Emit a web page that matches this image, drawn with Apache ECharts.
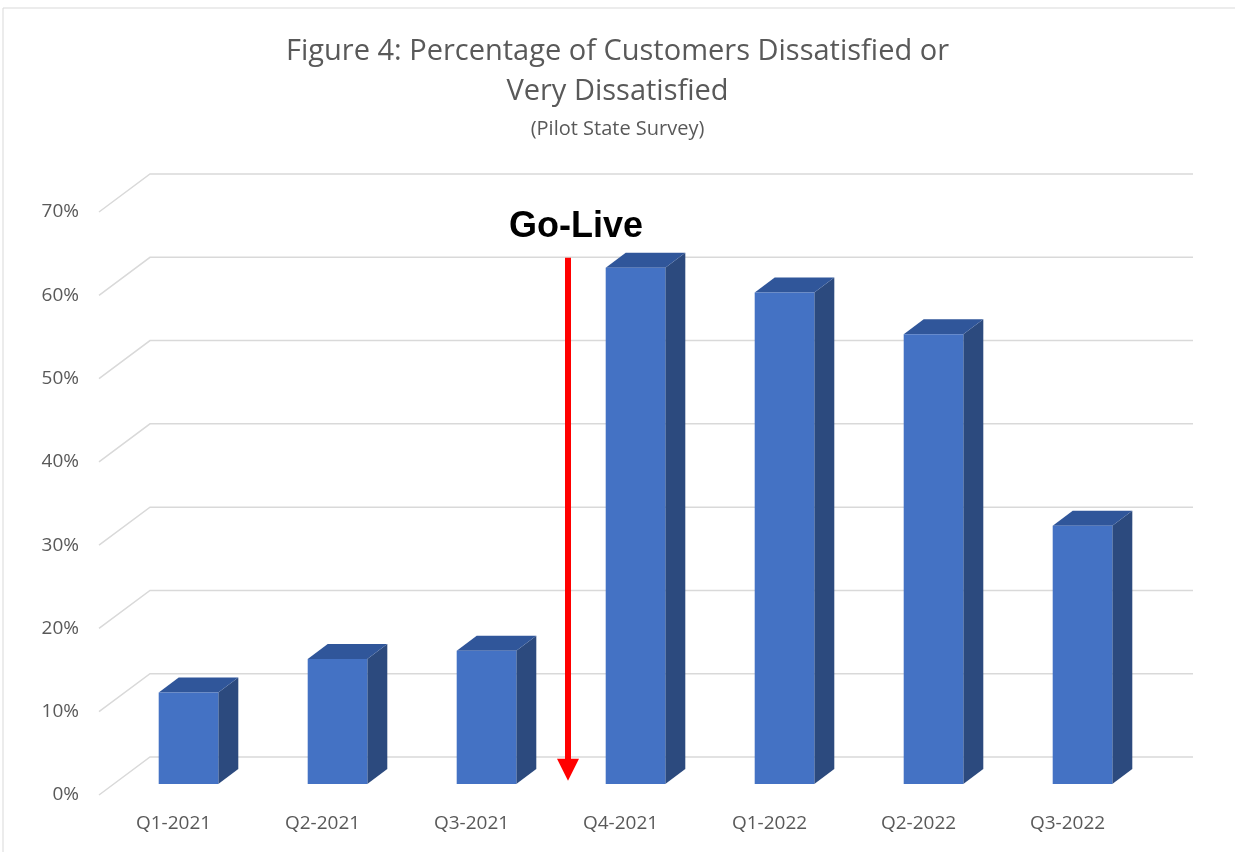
<!DOCTYPE html>
<html>
<head>
<meta charset="utf-8">
<title>Figure 4</title>
<script src="https://cdn.jsdelivr.net/npm/echarts@6/dist/echarts.min.js"></script>
<style>
  html, body { margin: 0; padding: 0; background: #fff; }
  #main { width: 1235px; height: 852px; }
</style>
</head>
<body>
<div id="main"></div>
<script>
// data
var quarters = ['Q1-2021', 'Q2-2021', 'Q3-2021', 'Q4-2021', 'Q1-2022', 'Q2-2022', 'Q3-2022'];
var dissatisfied = [0.11, 0.15, 0.16, 0.62, 0.59, 0.54, 0.31];
var ticks = [0, 0.1, 0.2, 0.3, 0.4, 0.5, 0.6, 0.7];
// go-live marker: after the 3rd quarter, arrow from/to value
var goLive = [2, 0.645, 0.017];

// 3d look
var wallDx = 51, wallDy = -38;    // depth of the floor / side wall
var barDx = 15, barDy = -11;      // where bar fronts sit
var sideDx = 20, sideDy = -15;    // bar depth

var myChart = echarts.init(document.getElementById('main'));

function gridItem(params, api) {
  var cs = params.coordSys;
  var y = api.coord([0, api.value(1)])[1];
  var x0 = cs.x, x1 = cs.x + cs.width;
  return {
    type: 'polyline',
    shape: { points: [[x0, y], [x0 + wallDx, y + wallDy], [x1 + wallDx, y + wallDy]] },
    style: { stroke: '#d9d9d9', lineWidth: 1.5, fill: null },
    silent: true
  };
}

function barItem(params, api) {
  var i = api.value(0), v = api.value(1);
  var top = api.coord([i, v]);
  var base = api.coord([i, 0]);
  var w = api.size([1, 0])[0] * 0.4;
  var xl = top[0] - w / 2 + barDx, xr = xl + w;
  var yt = top[1] + barDy, yb = base[1] + barDy;
  return {
    type: 'group',
    children: [
      {
        type: 'polygon',
        shape: { points: [[xr, yt], [xr + sideDx, yt + sideDy], [xr + sideDx, yb + sideDy], [xr, yb]] },
        style: { fill: '#2c4a7e' }
      },
      {
        type: 'polygon',
        shape: { points: [[xl, yt], [xl + sideDx, yt + sideDy], [xr + sideDx, yt + sideDy], [xr, yt]] },
        style: { fill: '#30569a' }
      },
      {
        type: 'rect',
        shape: { x: xl, y: yt, width: w, height: yb - yt },
        style: { fill: '#4472c4' }
      }
    ]
  };
}

function arrowItem(params, api) {
  var i = api.value(0);
  var a = api.coord([i, api.value(1)]);
  var b = api.coord([i + 1, api.value(2)]);
  var x = (a[0] + b[0]) / 2 + 22;
  var y0 = a[1], y1 = b[1];
  return {
    type: 'group',
    children: [
      {
        type: 'line',
        shape: { x1: x, y1: y0, x2: x, y2: y1 - 20 },
        style: { stroke: '#ff0000', lineWidth: 6 }
      },
      {
        type: 'polygon',
        shape: { points: [[x - 11, y1 - 22], [x + 11, y1 - 22], [x, y1]] },
        style: { fill: '#ff0000' }
      },
      {
        type: 'text',
        x: x + 8, y: y0 - 13,
        style: {
          text: 'Go-Live', fill: '#000', align: 'center', verticalAlign: 'bottom',
          font: 'bold 36px "Liberation Sans", Arial, sans-serif'
        }
      }
    ]
  };
}

var option = {
  animation: false,
  title: [{
    text: 'Figure 4: Percentage of Customers Dissatisfied or\nVery Dissatisfied',
    left: 'center',
    top: 27,
    textStyle: { color: '#595959', fontSize: 29, fontWeight: 'normal', fontFamily: 'Open Sans', lineHeight: 40 }
  }, {
    text: '(Pilot State Survey)',
    left: 'center',
    top: 114,
    textStyle: { color: '#595959', fontSize: 20, fontWeight: 'normal', fontFamily: 'Open Sans' }
  }],
  grid: { left: 99, right: 93, top: 212, bottom: 57 },
  xAxis: {
    type: 'category',
    data: quarters,
    axisLine: { show: false },
    axisTick: { show: false },
    axisLabel: { color: '#595959', fontSize: 19, fontFamily: 'Open Sans', margin: 19 }
  },
  yAxis: {
    type: 'value',
    min: 0,
    max: 0.7,
    interval: 0.1,
    splitLine: { show: false },
    axisLine: { show: false },
    axisTick: { show: false },
    axisLabel: {
      color: '#595959', fontSize: 19, fontFamily: 'Open Sans', margin: 20,
      formatter: function (v) { return Math.round(v * 100) + '%'; }
    }
  },
  series: [
    {
      type: 'custom',
      renderItem: gridItem,
      data: ticks.map(function (t) { return [0, t]; }),
      z: 1,
      silent: true
    },
    {
      type: 'custom',
      renderItem: barItem,
      data: dissatisfied.map(function (v, i) { return [i, v]; }),
      z: 2
    },
    {
      type: 'custom',
      renderItem: arrowItem,
      data: [goLive],
      z: 3,
      silent: true
    }
  ],
  graphic: [{
    type: 'polyline',
    shape: { points: [[3, 852], [3, 8], [1235, 8]] },
    style: { stroke: '#d9d9d9', lineWidth: 1, fill: null },
    silent: true
  }]
};

myChart.setOption(option);
</script>
</body>
</html>
